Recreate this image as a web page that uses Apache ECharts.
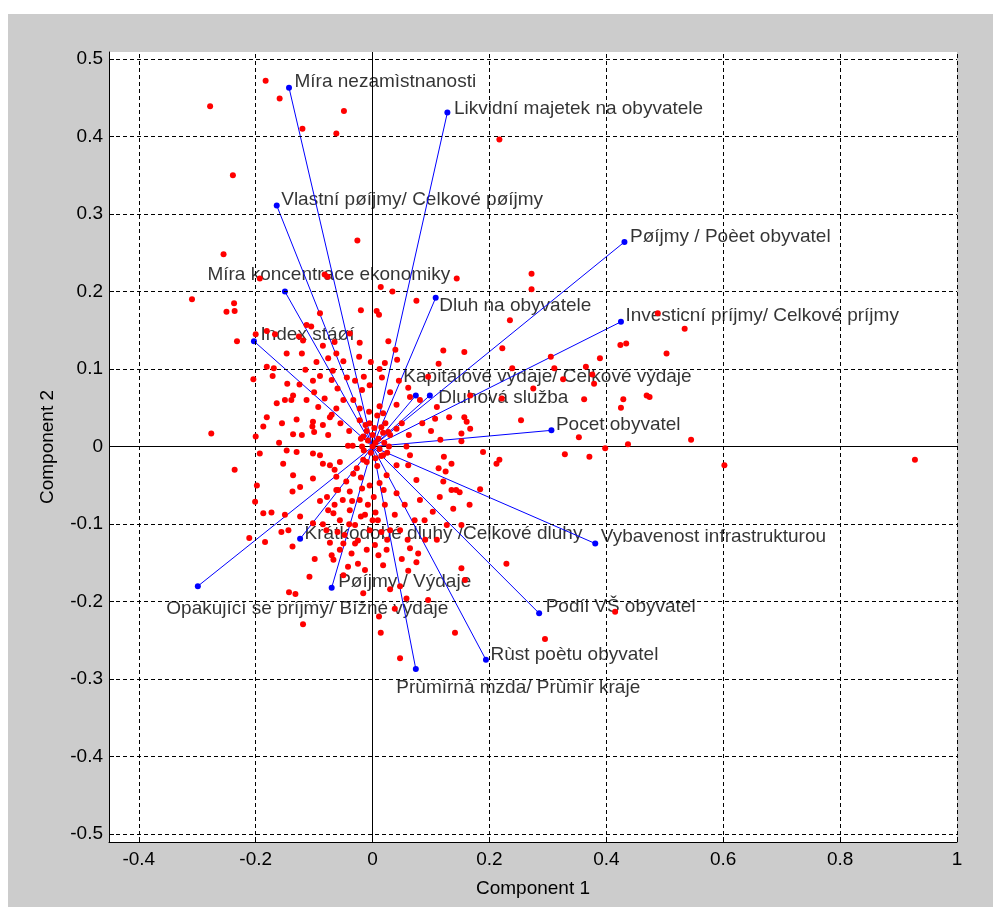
<!DOCTYPE html>
<html><head><meta charset="utf-8">
<script src="https://cdn.jsdelivr.net/npm/echarts@6/dist/echarts.min.js"></script>
<style>
html,body{margin:0;padding:0;background:#fff;}
#bg{position:absolute;left:8px;top:14px;width:985px;height:893px;background:#cccccc;}
#main{position:absolute;left:0;top:0;width:993px;height:907px;}
</style></head><body><div id="bg"></div><div id="main"></div>
<script>
// ---------- data ----------
const varNames = [
  "Míra nezamìstnanosti",
  "Likvidní majetek na obyvatele",
  "Vlastní pøíjmy/ Celkové pøíjmy",
  "Míra koncentrace ekonomiky",
  "Dluh na obyvatele",
  "Pøíjmy / Poèet obyvatel",
  "Investicní príjmy/ Celkové príjmy",
  "Index stáøí",
  "Kapitálové výdaje/ Celkové výdaje",
  "Dluhová služba",
  "Pocet obyvatel",
  "Vybavenost infrastrukturou",
  "Podíl VŠ obyvatel",
  "Rùst poètu obyvatel",
  "Prùmìrná mzda/ Prùmìr kraje",
  "Pøíjmy / Výdaje",
  "Krátkodobé dluhy /Celkové dluhy",
  "Opakující se príjmy/ Bìžné výdaje"
];
const loadX = [-0.143, 0.128, -0.164, -0.150, 0.108, 0.431, 0.425, -0.203, 0.074, 0.098, 0.306, 0.381, 0.285, 0.194, 0.074, -0.070, -0.124, -0.299];
const loadY = [0.463, 0.431, 0.311, 0.200, 0.192, 0.264, 0.161, 0.136, 0.066, 0.066, 0.021, -0.125, -0.215, -0.275, -0.287, -0.182, -0.119, -0.180];

const scorePoints = [
[-0.183,0.472],[-0.278,0.439],[-0.159,0.449],[-0.049,0.433],[-0.120,0.410],[-0.062,0.404],[-0.239,0.350],[-0.026,0.266],[-0.255,0.248],[-0.193,0.217],[-0.082,0.222],[-0.077,0.219],[0.014,0.206],[0.034,0.200],[0.075,0.188],[-0.309,0.190],[-0.250,0.174],[-0.237,0.185],[-0.236,0.175],[-0.090,0.172],[-0.020,0.176],[0.007,0.175],[0.011,0.170],[0.217,0.396],[0.272,0.223],[0.272,0.203],[0.144,0.217],[0.235,0.163],[0.488,0.172],[0.534,0.152],[0.424,0.131],[0.434,0.133],[0.503,0.120],[0.389,0.114],[0.222,0.127],[0.157,0.122],[0.121,0.124],[0.113,0.107],[0.239,0.101],[0.305,0.116],[0.311,0.101],[0.365,0.103],[0.376,0.093],[0.379,0.081],[0.326,0.087],[0.275,0.075],[0.221,0.062],[0.362,0.061],[0.429,0.061],[0.425,0.050],[0.469,0.066],[0.474,0.064],[0.167,0.066],[0.110,0.051],[0.131,0.038],[0.107,0.036],[0.157,0.038],[0.161,0.032],[0.167,0.023],[0.152,0.017],[0.152,0.007],[0.254,0.034],[0.353,0.012],[0.398,-0.002],[0.437,0.003],[0.545,0.009],[0.329,-0.010],[0.371,-0.013],[0.217,-0.017],[0.212,-0.022],[0.122,-0.013],[0.113,-0.028],[0.125,-0.032],[0.184,-0.055],[0.143,-0.056],[0.602,-0.024],[0.928,-0.017],[0.116,0.009],[0.062,0.015],
[-0.200,0.145],[-0.232,0.136],[-0.181,0.149],[-0.167,0.145],[-0.113,0.157],[-0.126,0.142],[-0.119,0.137],[-0.039,0.146],[-0.065,0.135],[-0.022,0.134],[0.027,0.136],[0.039,0.125],[-0.147,0.120],[-0.121,0.120],[-0.096,0.109],[-0.076,0.114],[-0.062,0.120],[-0.023,0.116],[-0.003,0.109],[0.021,0.108],[0.042,0.112],[-0.181,0.103],[-0.169,0.101],[-0.115,0.099],[-0.068,0.098],[0.012,0.100],[-0.204,0.087],[-0.171,0.091],[-0.146,0.081],[-0.102,0.085],[-0.090,0.091],[-0.070,0.086],[-0.044,0.089],[-0.005,0.079],[0.016,0.089],[0.061,0.076],[-0.018,0.073],[-0.136,0.066],[-0.139,0.060],[-0.150,0.060],[-0.164,0.056],[-0.113,0.060],[-0.082,0.062],[-0.050,0.060],[-0.033,0.060],[-0.093,0.051],[-0.062,0.049],[-0.070,0.041],[-0.022,0.049],[0.018,0.043],[0.041,0.054],[0.064,0.064],[0.081,0.060],[-0.181,0.038],[-0.187,0.026],[-0.130,0.035],[-0.102,0.032],[-0.103,0.026],[-0.085,0.028],[-0.073,0.038],[-0.022,0.034],[-0.276,0.017],[-0.200,0.013],[-0.136,0.016],[-0.121,0.015],[-0.100,0.019],[-0.076,0.015],[-0.016,0.013],[0.027,0.019],[0.041,0.023],[0.058,0.000],[-0.042,0.001],[-0.034,0.001],[-0.147,-0.005],[-0.130,-0.007],[-0.193,-0.009],[-0.198,-0.050],[-0.102,-0.009],[-0.090,-0.011],[0.018,-0.011],[0.064,-0.011],[0.189,-0.007],[-0.153,-0.022],[-0.085,-0.022],[-0.073,-0.024],[-0.065,-0.030],[-0.056,-0.020],[-0.027,-0.028],[-0.016,-0.017],[0.041,-0.024],[0.061,-0.024],[0.135,-0.022],[-0.236,-0.030],[-0.136,-0.037],[-0.102,-0.041],[-0.062,-0.039],[-0.033,-0.035],[0.024,-0.037],[0.075,-0.043],[0.121,-0.045],[-0.137,-0.058],[-0.062,-0.056],[-0.039,-0.058],[-0.005,-0.050],[0.012,-0.047],[0.041,-0.060],
[-0.201,-0.071],[-0.187,-0.086],[-0.173,-0.085],[-0.211,-0.118],[-0.184,-0.123],[-0.156,-0.110],[-0.144,-0.108],[-0.137,-0.129],[-0.150,-0.088],[-0.124,-0.090],[-0.124,-0.052],[-0.108,-0.168],[-0.099,-0.145],[-0.143,-0.188],[-0.132,-0.190],[-0.119,-0.229],[-0.067,-0.146],[-0.050,-0.166],[-0.042,-0.155],[-0.013,-0.159],[-0.016,-0.189],[0.018,-0.153],[0.030,-0.184],[0.047,-0.180],[0.058,-0.196],[0.095,-0.198],[0.152,-0.157],[0.158,-0.172],[0.011,-0.219],[0.014,-0.240],[0.038,-0.209],[0.141,-0.240],[0.047,-0.273],[0.061,-0.160],[0.115,-0.065],[0.135,-0.056],[0.149,-0.059],[0.138,-0.080],[0.166,-0.075],[0.127,-0.101],[0.078,-0.138],[0.064,-0.131],[0.050,-0.145],[0.024,-0.133],[-0.010,-0.133],[-0.025,-0.151],[-0.073,-0.124],[-0.056,-0.133],[-0.036,-0.138],[-0.102,-0.099],[-0.079,-0.108],[-0.067,-0.086],[0.103,-0.084],[0.089,-0.095],[0.152,-0.101],[0.229,-0.151],[0.415,-0.213],[0.295,-0.248],[0.075,-0.149],
[-0.078,-0.065],[-0.065,-0.075],[-0.051,-0.069],[-0.039,-0.082],[-0.056,-0.095],[-0.030,-0.101],[-0.022,-0.069],[-0.013,-0.088],[-0.005,-0.108],[0.009,-0.095],[0.021,-0.075],[0.030,-0.108],[-0.048,-0.114],[-0.025,-0.121],[0.004,-0.127],[-0.076,-0.082],[-0.059,-0.056],[-0.018,-0.054],[0.002,-0.065],[0.019,-0.056],[0.038,-0.088],[0.047,-0.108],[0.055,-0.075],[0.072,-0.095],[0.081,-0.069],
[0.000,0.000],[0.010,0.010],[-0.010,0.020],[0.020,0.005],[-0.015,-0.005],[0.005,-0.015],[0.015,0.025],[-0.005,0.030],[0.025,-0.008],[-0.020,0.010],[0.008,0.040],[0.030,0.015],[-0.010,-0.020],[0.000,0.015],
[0.005,0.005],[-0.008,0.008],[0.012,-0.003],[0.018,0.018],[-0.012,0.028],[0.003,0.024],[0.022,0.030],[-0.003,-0.008],[0.015,-0.012],[-0.018,0.000],[0.008,-0.025],[0.028,0.000],[-0.006,0.045],[0.012,0.052],
[-0.045,-0.045],[-0.035,-0.070],[-0.020,-0.090],[-0.008,-0.075],[0.005,-0.085],[0.015,-0.110],[-0.040,-0.100],[-0.060,-0.110],[-0.085,-0.100],[-0.090,-0.070],[-0.030,-0.125],[0.010,-0.140],[-0.050,-0.125],[-0.070,-0.140],[-0.020,-0.040],[0.000,-0.095],[0.025,-0.120],[0.060,-0.120],[0.090,-0.120],[0.110,-0.120],
[-0.055,0.030],[-0.040,0.020],[-0.030,0.085],[-0.050,0.110],[-0.085,0.130],[-0.100,0.070],[-0.125,0.080],[-0.060,0.075],[-0.015,0.090],[-0.105,0.155],[-0.155,0.030],[-0.160,0.005],
[0.030,0.070],[0.050,0.030],[0.085,0.030],[0.045,0.085],[0.095,0.090],[0.100,0.020]
];

const xTicks = [-0.4, -0.2, 0, 0.2, 0.4, 0.6, 0.8, 1];
const yTicks = [-0.5, -0.4, -0.3, -0.2, -0.1, 0, 0.1, 0.2, 0.3, 0.4, 0.5];
const xTitle = "Component 1";
const yTitle = "Component 2";

// ---------- styling (label offsets in px from vector tip) ----------
const labelOffsets = [
  [6,-5],[7,-3],[5,-5],[-77,-16],[4,9],[6,-5],[5,-6],[7,-6],[-12,-18],
  [9,3],[5,-5],[6,-6],[7,-6],[5,-5],[-19,19],[7,-5],[5,-5],[-31,23]
];
const FONT = "'Liberation Sans', Arial, Helvetica, sans-serif";
const FS = 19;

const chart = echarts.init(document.getElementById('main'), null, {renderer: 'canvas'});

const gridDash = {color: '#000', width: 1, type: [4, 3], opacity: 1};

const option = {
  animation: false,
  backgroundColor: 'transparent',
  grid: {left: 109, top: 52, width: 848, height: 790, show: true, backgroundColor: '#ffffff', borderWidth: 0},
  xAxis: {
    type: 'value', min: -0.451, max: 1,
    name: xTitle, nameLocation: 'middle', nameGap: 37,
    nameTextStyle: {fontFamily: FONT, fontSize: FS, color: '#000'},
    axisLine: {show: true, onZero: false, lineStyle: {color: '#000', width: 1}},
    axisTick: {show: true, inside: true, length: 5, customValues: xTicks, lineStyle: {color: '#000'}},
    axisLabel: {show: true, customValues: xTicks, margin: 8, fontFamily: FONT, fontSize: FS, color: '#000'},
    splitLine: {show: false}
  },
  yAxis: {
    type: 'value', min: -0.51, max: 0.509,
    name: yTitle, nameLocation: 'middle', nameGap: 52, nameRotate: 90,
    nameTextStyle: {fontFamily: FONT, fontSize: FS, color: '#000'},
    axisLine: {show: true, onZero: false, lineStyle: {color: '#000', width: 1}},
    axisTick: {show: true, inside: true, length: 5, customValues: yTicks, lineStyle: {color: '#000'}},
    axisLabel: {show: true, customValues: yTicks, margin: 6, fontFamily: FONT, fontSize: FS, color: '#000'},
    splitLine: {show: false}
  },
  series: [
    { // dashed grid
      type: 'scatter', data: [], z: 0, silent: true,
      markLine: {
        silent: true, symbol: ['none', 'none'], label: {show: false}, animation: false,
        lineStyle: gridDash,
        data: xTicks.filter(v => v !== 0).map(v => ({xAxis: v}))
          .concat(yTicks.filter(v => v !== 0).map(v => ({yAxis: v})))
      }
    },
    { // solid zero axes
      type: 'scatter', data: [], z: 1, silent: true,
      markLine: {
        silent: true, symbol: ['none', 'none'], label: {show: false}, animation: false,
        lineStyle: {color: '#000', width: 1, type: 'solid'},
        data: [{xAxis: 0}, {yAxis: 0}]
      }
    },
    { // variable labels
      type: 'scatter', z: 2, silent: true,
      symbolSize: 1, itemStyle: {color: 'rgba(0,0,0,0)'},
      data: varNames.map((n, i) => ({
        name: n, value: [loadX[i], loadY[i]],
        label: {position: labelOffsets[i]}
      })),
      label: {
        show: true, formatter: p => p.name, align: 'left', verticalAlign: 'middle',
        fontFamily: FONT, fontSize: FS, color: '#000'
      }
    },
    { // vectors
      type: 'lines', coordinateSystem: 'cartesian2d', z: 3, silent: true,
      lineStyle: {color: '#0000ff', width: 1, opacity: 1, curveness: 0},
      data: varNames.map((n, i) => ({coords: [[0, 0], [loadX[i], loadY[i]]]}))
    },
    { // vector tips
      type: 'scatter', z: 4, silent: true, symbolSize: 6,
      itemStyle: {color: '#0000ff', opacity: 1},
      data: varNames.map((n, i) => [loadX[i], loadY[i]])
    },
    { // observations
      type: 'scatter', z: 5, silent: true, symbolSize: 6,
      itemStyle: {color: '#ff0000', opacity: 1},
      data: scorePoints
    }
  ]
};
chart.setOption(option);
</script>
</body></html>
